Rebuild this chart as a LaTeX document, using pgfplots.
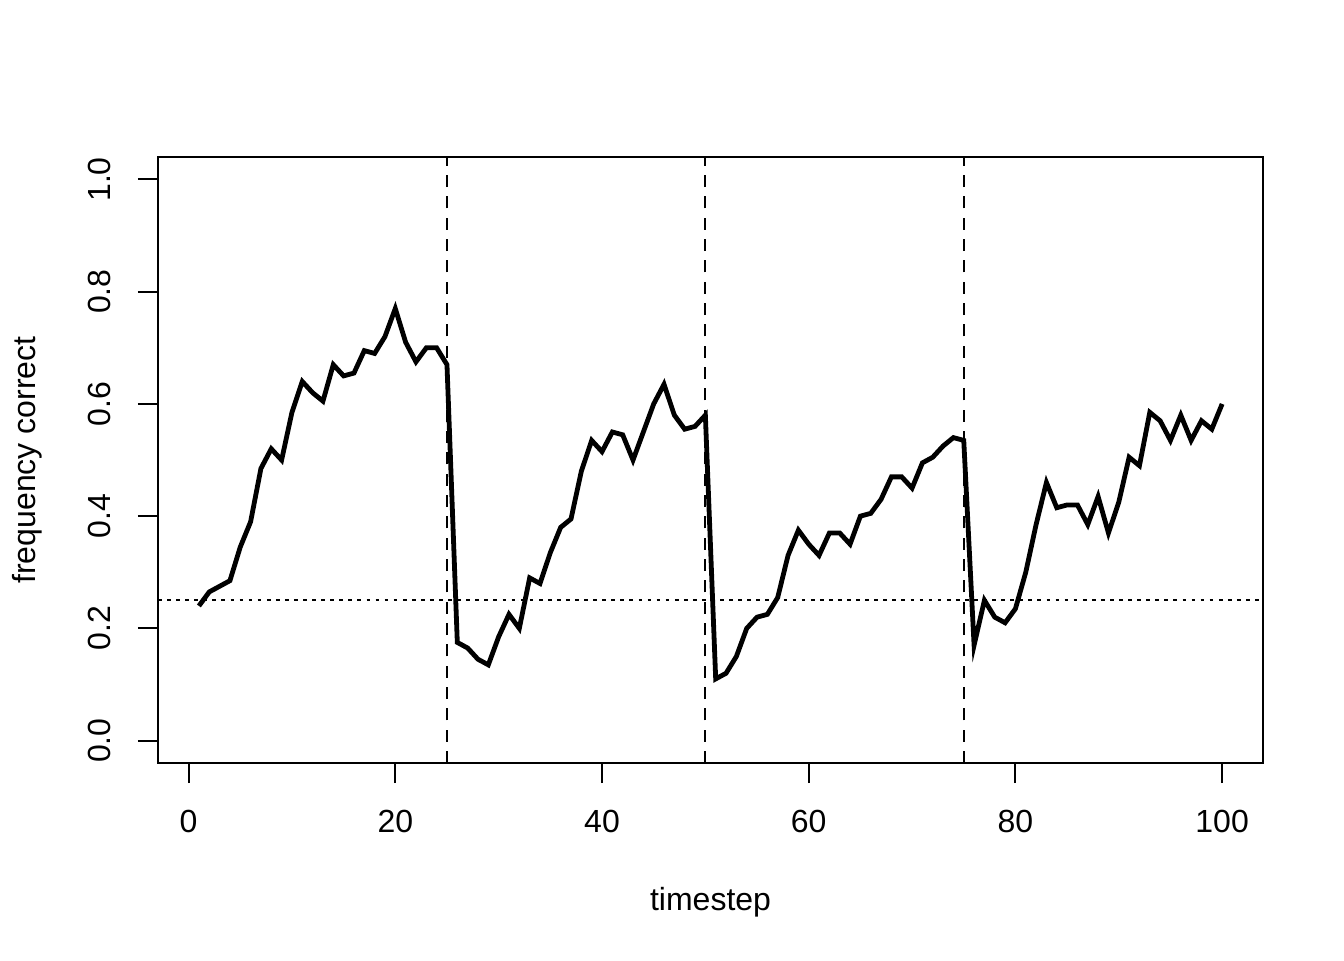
\documentclass[border=0pt]{standalone}
\usepackage{fontspec}
\setmainfont{Liberation Sans}
\usepackage{pgfplots}
\pgfplotsset{compat=1.18}
\begin{document}
\begin{tikzpicture}
\path[use as bounding box] (-59.25pt,-73.9pt) rectangle (444.75pt,286.15pt);
\begin{axis}[
  scale only axis,
  width=414.4pt, height=227.25pt,
  xmin=-2.96, xmax=103.96,
  ymin=-0.04, ymax=1.04,
  axis line style={line width=0.75pt},
  xtick={0,20,40,60,80,100},
  ytick={0,0.2,0.4,0.6,0.8,1.0},
  tick align=outside,
  xtick pos=bottom, ytick pos=left,
  major tick length=7.5pt,
  every tick/.style={black, line width=0.75pt},
  /pgf/number format/assume math mode=true,
  ticklabel style={font=\fontsize{12}{14}\selectfont},
  yticklabel style={rotate=90, anchor=south, /pgf/number format/fixed, /pgf/number format/fixed zerofill, /pgf/number format/precision=1},
  xticklabel style={anchor=north},
  xticklabel shift=6.8pt,
  yticklabel shift=6.7pt,
  xlabel={timestep},
  ylabel={frequency correct},
  label style={font=\fontsize{12}{14}\selectfont},
  xlabel style={at={(axis description cs:0.5,-0.2425)}, anchor=base},
  ylabel style={at={(axis description cs:-0.1112,0.5)}, anchor=base},
  clip=false,
]
\addplot[black, line width=1.8pt] coordinates {
(1,0.24)(2,0.265)(3,0.275)(4,0.285)(5,0.345)(6,0.39)(7,0.485)(8,0.52)(9,0.50)(10,0.585)
(11,0.64)(12,0.62)(13,0.605)(14,0.67)(15,0.65)(16,0.655)(17,0.695)(18,0.69)(19,0.72)(20,0.77)
(21,0.71)(22,0.675)(23,0.70)(24,0.70)(25,0.67)(26,0.175)(27,0.165)(28,0.145)(29,0.135)(30,0.185)
(31,0.225)(32,0.20)(33,0.29)(34,0.28)(35,0.335)(36,0.38)(37,0.395)(38,0.48)(39,0.535)(40,0.515)
(41,0.55)(42,0.545)(43,0.50)(44,0.55)(45,0.60)(46,0.635)(47,0.58)(48,0.555)(49,0.56)(50,0.58)
(51,0.11)(52,0.12)(53,0.15)(54,0.20)(55,0.22)(56,0.225)(57,0.255)(58,0.33)(59,0.375)(60,0.35)
(61,0.33)(62,0.37)(63,0.37)(64,0.35)(65,0.40)(66,0.405)(67,0.43)(68,0.47)(69,0.47)(70,0.45)
(71,0.495)(72,0.505)(73,0.525)(74,0.54)(75,0.535)(76,0.17)(77,0.25)(78,0.22)(79,0.21)(80,0.235)
(81,0.30)(82,0.385)(83,0.46)(84,0.415)(85,0.42)(86,0.42)(87,0.385)(88,0.435)(89,0.37)(90,0.425)
(91,0.505)(92,0.49)(93,0.585)(94,0.57)(95,0.535)(96,0.58)(97,0.535)(98,0.57)(99,0.555)(100,0.60)
};
\addplot[black, line width=0.75pt, dash pattern=on 4.5pt off 3.5pt] coordinates {(25,-0.04)(25,1.04)};
\addplot[black, line width=0.75pt, dash pattern=on 4.5pt off 3.5pt] coordinates {(50,-0.04)(50,1.04)};
\addplot[black, line width=0.75pt, dash pattern=on 4.5pt off 3.5pt] coordinates {(75,-0.04)(75,1.04)};
\addplot[black, line width=0.75pt, dash pattern=on 1.4pt off 2pt] coordinates {(-2.96,0.25)(103.96,0.25)};
\end{axis}
\end{tikzpicture}
\end{document}
